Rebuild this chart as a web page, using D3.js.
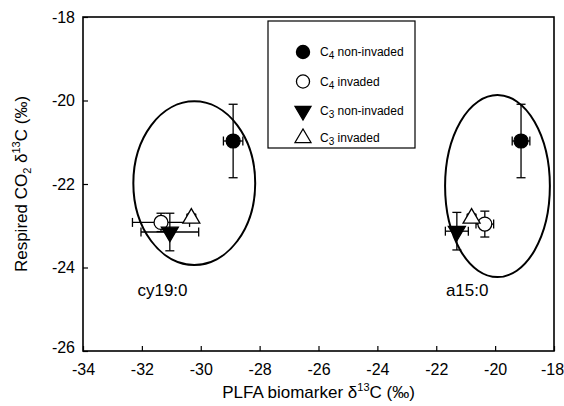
<!DOCTYPE html>
<html>
<head>
<meta charset="utf-8">
<script src="https://cdn.jsdelivr.net/npm/d3@7"></script>
<style>
body { margin: 0; background: #fff; }
svg { font-family: "Liberation Sans", Arial, sans-serif; }
</style>
</head>
<body>
<svg id="chart" width="564" height="406"></svg>
<script>
// series, in legend order
var seriesNames = ["non-invaded", "invaded", "non-invaded", "invaded"]
var seriesSub = ["4", "4", "3", "3"]
var seriesShape = ["circle", "circle", "down", "up"]
var seriesFill = ["#000", "#fff", "#000", "#fff"]

// groups: cy19:0 then a15:0
var groupLabels = ["cy19:0", "a15:0"]
var labelX = [-31.3, -20.95]
var labelY = [-24.68, -24.68]

// means and errors, [cy19:0, a15:0] for each series
var xMean = [[-28.9, -19.12], [-31.35, -20.35], [-31.05, -21.3], [-30.32, -20.8]]
var xErr = [[0.33, 0.3], [0.97, 0.3], [0.98, 0.39], [0.15, 0.15]]
var yMean = [[-20.97, -20.97], [-22.92, -22.96], [-23.15, -23.13], [-22.82, -22.82]]
var yErr = [[0.88, 0.88], [0.22, 0.31], [0.45, 0.45], [0.1, 0.1]]

// ellipses around each group
var ellCx = [-30.22, -19.92]
var ellCy = [-21.98, -22.05]
var ellRx = [2.07, 1.78]
var ellRy = [1.96, 2.18]

var xTicks = [-34, -32, -30, -28, -26, -24, -22, -20, -18]
var yTicks = [-26, -24, -22, -20, -18]

var margin = {left: 83, top: 17, right: 10, bottom: 55}
var width = 471
var height = 334

var svg = d3.select("#chart")
var g = svg.append("g").attr("transform", "translate(" + margin.left + "," + margin.top + ")")

var x = d3.scaleLinear().domain([-34, -18]).range([0, width])
var y = d3.scaleLinear().domain([-26, -18]).range([height, 0])

// plain hyphen for the minus sign, like the original
var fmt = function(d) { return String(d) }

// axes with inward ticks
var xa = g.append("g").attr("transform", "translate(0," + height + ")")
	.call(d3.axisBottom(x).tickValues(xTicks).tickFormat(fmt).tickSizeInner(-5).tickSizeOuter(0).tickPadding(9))
var ya = g.append("g")
	.call(d3.axisLeft(y).tickValues(yTicks).tickFormat(fmt).tickSizeInner(-5).tickSizeOuter(0).tickPadding(8))
g.selectAll(".domain").remove()
g.selectAll(".tick line").attr("stroke", "#000").attr("stroke-width", 1.2)
g.selectAll(".tick text").attr("fill", "#000").style("font-size", "16px")
xa.selectAll(".tick text").attr("dy", "0.95em")
// last x label sits right at the page edge
xa.selectAll(".tick text").filter(function(d) { return d == -18 }).attr("dx", -2)
ya.selectAll(".tick text").filter(function(d) { return d == -26 }).attr("dy", "0.1em")

// frame
g.append("rect").attr("width", width).attr("height", height)
	.attr("fill", "none").attr("stroke", "#000").attr("stroke-width", 1.6)

// ellipses
for (var k = 0; k < ellCx.length; k++) {
	g.append("ellipse")
		.attr("cx", x(ellCx[k])).attr("cy", y(ellCy[k]))
		.attr("rx", x(ellCx[k] + ellRx[k]) - x(ellCx[k]))
		.attr("ry", y(ellCy[k]) - y(ellCy[k] + ellRy[k]))
		.attr("fill", "none").attr("stroke", "#000").attr("stroke-width", 2)
	g.append("text").attr("x", x(labelX[k])).attr("y", y(labelY[k]))
		.attr("text-anchor", "middle").style("font-size", "17px").text(groupLabels[k])
}

function marker(sel, shape, cx, cy, fill, s) {
	if (shape == "circle") {
		sel.append("circle").attr("cx", cx).attr("cy", cy).attr("r", s * 0.82)
			.attr("fill", fill).attr("stroke", "#000").attr("stroke-width", 1.3)
	} else {
		var h = s * 1.7, w = s * 1.0
		var pts = shape == "down"
			? [[cx - w, cy - h / 3], [cx + w, cy - h / 3], [cx, cy + 2 * h / 3]]
			: [[cx - w, cy + h / 3], [cx + w, cy + h / 3], [cx, cy - 2 * h / 3]]
		sel.append("polygon").attr("points", pts.map(function(p) { return p.join(",") }).join(" "))
			.attr("fill", fill).attr("stroke", "#000").attr("stroke-width", 1.3)
	}
}

// error bars then markers
var cap = 4.5
for (var i = 0; i < seriesNames.length; i++) {
	for (var j = 0; j < groupLabels.length; j++) {
		var px = x(xMean[i][j]), py = y(yMean[i][j])
		var x0 = x(xMean[i][j] - xErr[i][j]), x1 = x(xMean[i][j] + xErr[i][j])
		var y0 = y(yMean[i][j] - yErr[i][j]), y1 = y(yMean[i][j] + yErr[i][j])
		var eb = g.append("g").attr("stroke", "#000").attr("stroke-width", 1.3)
		eb.append("line").attr("x1", x0).attr("x2", x1).attr("y1", py).attr("y2", py)
		eb.append("line").attr("x1", x0).attr("x2", x0).attr("y1", py - cap).attr("y2", py + cap)
		eb.append("line").attr("x1", x1).attr("x2", x1).attr("y1", py - cap).attr("y2", py + cap)
		eb.append("line").attr("x1", px).attr("x2", px).attr("y1", y0).attr("y2", y1)
		eb.append("line").attr("x1", px - cap).attr("x2", px + cap).attr("y1", y0).attr("y2", y0)
		eb.append("line").attr("x1", px - cap).attr("x2", px + cap).attr("y1", y1).attr("y2", y1)
	}
}
for (var i = 0; i < seriesNames.length; i++) {
	for (var j = 0; j < groupLabels.length; j++) {
		marker(g, seriesShape[i], x(xMean[i][j]), y(yMean[i][j]), seriesFill[i], 8.5)
	}
}

// legend
var lg = svg.append("g").attr("transform", "translate(268,21)")
lg.append("rect").attr("width", 147).attr("height", 127)
	.attr("fill", "#fff").attr("stroke", "#000").attr("stroke-width", 1.2)
var legY = [31, 60.5, 90, 117]
for (var i = 0; i < seriesNames.length; i++) {
	marker(lg, seriesShape[i], 35, legY[i], seriesFill[i], 8)
	var t = lg.append("text").attr("x", 52).attr("y", legY[i] + 4).style("font-size", "12px")
	t.append("tspan").text("C")
	t.append("tspan").attr("dy", 3).style("font-size", "10px").text(seriesSub[i])
	t.append("tspan").attr("dy", -3).text(" " + seriesNames[i])
}

// axis titles
var xt = svg.append("text").attr("x", margin.left + width / 2).attr("y", 398)
	.attr("text-anchor", "middle").style("font-size", "17px")
xt.append("tspan").text("PLFA biomarker \u03b4")
xt.append("tspan").attr("dy", -7).style("font-size", "11px").text("13")
xt.append("tspan").attr("dy", 7).text("C (\u2030)")

var yt = svg.append("text").attr("transform", "translate(27," + (margin.top + height / 2) + ") rotate(-90)")
	.attr("text-anchor", "middle").style("font-size", "17px")
yt.append("tspan").text("Respired CO")
yt.append("tspan").attr("dy", 4).style("font-size", "11px").text("2")
yt.append("tspan").attr("dy", -4).text(" \u03b4")
yt.append("tspan").attr("dy", -7).style("font-size", "11px").text("13")
yt.append("tspan").attr("dy", 7).text("C (\u2030)")
</script>
</body>
</html>
